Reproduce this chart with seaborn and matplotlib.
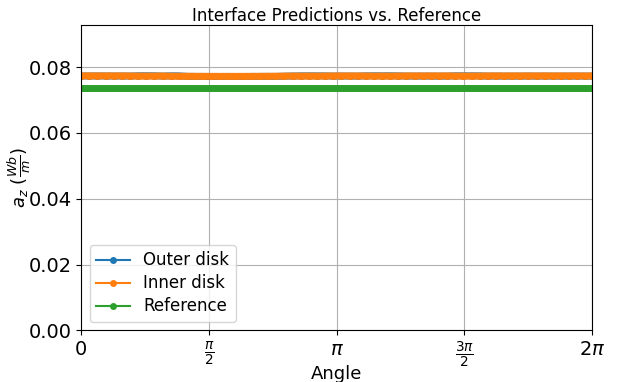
import numpy as np
import pandas as pd
import seaborn as sns
import matplotlib.pyplot as plt

angle = [0.0, 0.1, 0.2, 0.3, 0.4, 0.5, 0.6, 0.7, 0.8, 0.9, 1.0, 1.1, 1.2, 1.3, 1.4, 1.5,
         1.6, 1.7, 1.8, 1.9, 2.0, 2.1, 2.2, 2.3, 2.4, 2.5, 2.6, 2.7, 2.8, 2.9, 3.0, 3.1,
         3.2, 3.3, 3.4, 3.5, 3.6, 3.7, 3.8, 3.9, 4.0, 4.1, 4.2, 4.3, 4.4, 4.5, 4.6, 4.7,
         4.8, 4.9, 5.0, 5.1, 5.2, 5.3, 5.4, 5.5, 5.6, 5.7, 5.8, 5.9, 6.0, 6.1, 6.2, 6.2832]

outer = [0.07728, 0.07728, 0.07729, 0.07728, 0.07727, 0.07728, 0.07727, 0.07734, 0.07735, 0.07734, 0.07726, 0.07733, 0.07732, 0.07718, 0.07716, 0.07715,
         0.07714, 0.07714, 0.07715, 0.07714, 0.07714, 0.07715, 0.07716, 0.07717, 0.07716, 0.07723, 0.07728, 0.07732, 0.07733, 0.07732, 0.07731, 0.07726,
         0.07727, 0.07726, 0.07725, 0.07732, 0.07734, 0.07733, 0.07734, 0.07731, 0.07726, 0.07725, 0.07726, 0.07725, 0.07724, 0.07725, 0.07733, 0.07734,
         0.07733, 0.07732, 0.07725, 0.07726, 0.07725, 0.07724, 0.07725, 0.07726, 0.07725, 0.07726, 0.07725, 0.07724, 0.07725, 0.07726, 0.07725, 0.07726]

inner = [0.07732, 0.07732, 0.07731, 0.07732, 0.07731, 0.07731, 0.07728, 0.07725, 0.07724, 0.07725, 0.07728, 0.07722, 0.07720, 0.07719, 0.07718, 0.07717,
         0.07717, 0.07716, 0.07716, 0.07716, 0.07716, 0.07717, 0.07718, 0.07719, 0.07721, 0.07724, 0.07726, 0.07724, 0.07725, 0.07724, 0.07726, 0.07729,
         0.07730, 0.07729, 0.07730, 0.07727, 0.07724, 0.07725, 0.07724, 0.07726, 0.07730, 0.07731, 0.07730, 0.07731, 0.07730, 0.07731, 0.07726, 0.07725,
         0.07724, 0.07726, 0.07730, 0.07731, 0.07730, 0.07731, 0.07730, 0.07731, 0.07730, 0.07731, 0.07730, 0.07731, 0.07730, 0.07731, 0.07730, 0.07731]

reference = [0.07365] * len(angle)

series_names = ['Outer disk', 'Inner disk', 'Reference']

df = pd.DataFrame({
    'angle': angle * 3,
    'az': outer + inner + reference,
    'series': [series_names[0]] * len(angle) + [series_names[1]] * len(angle) + [series_names[2]] * len(angle),
})

f = plt.figure(figsize = (6.2, 3.82), dpi = 100)
ax = f.add_subplot(111)

sns.lineplot(x = 'angle', y = 'az', hue = 'series', data = df, palette = ['#1f77b4', '#ff7f0e', '#2ca02c'],
             marker = 'o', markersize = 5, markeredgewidth = 0, linewidth = 5, ax = ax)

ax.set_xlim(0, 2 * np.pi)
ax.set_ylim(0, max(outer + inner) * 1.2)
ax.set_xticks([0, np.pi / 2, np.pi, 3 * np.pi / 2, 2 * np.pi])
ax.set_xticklabels(['0', r'$\frac{\pi}{2}$', r'$\pi$', r'$\frac{3\pi}{2}$', r'$2\pi$'], fontsize = 14)
ax.set_yticks([0.0, 0.02, 0.04, 0.06, 0.08])
ax.set_yticklabels(['0.00', '0.02', '0.04', '0.06', '0.08'], fontsize = 14)
ax.grid(True)

ax.set_title('Interface Predictions vs. Reference', fontsize = 12, pad = 3)
ax.set_xlabel('Angle', fontsize = 13, labelpad = -4)
ax.set_ylabel(r'$a_z\ (\frac{Wb}{m})$', fontsize = 13, labelpad = -3)
leg = ax.legend(loc = 'lower left', fontsize = 12, labelspacing = 0.3)
for h in leg.get_lines():
    h.set_linewidth(1.5)

f.subplots_adjust(left = 0.131, right = 0.955, top = 0.935, bottom = 0.135)
f.savefig('out.png', dpi = 100)
